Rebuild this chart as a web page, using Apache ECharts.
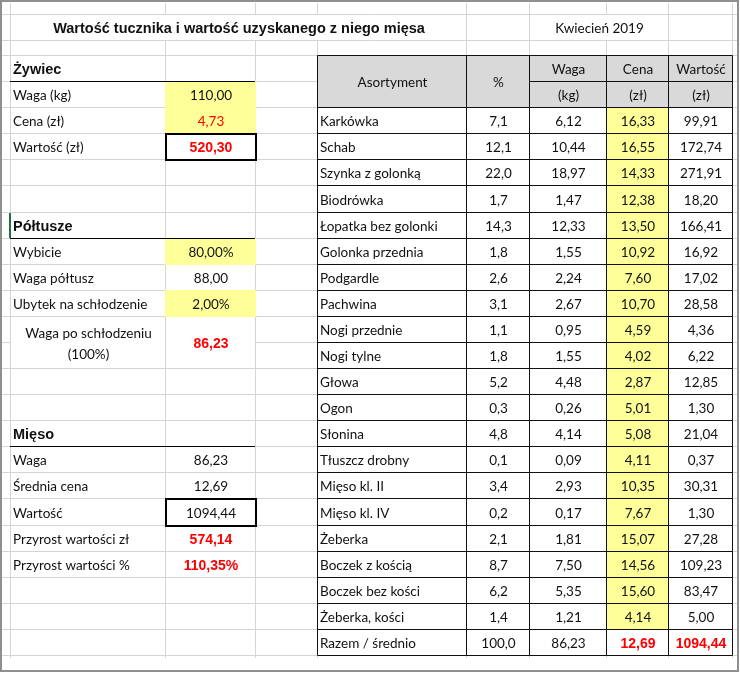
<!DOCTYPE html>
<html>
<head>
<meta charset="utf-8">
<script src="https://cdn.jsdelivr.net/npm/echarts@6/dist/echarts.min.js"></script>
<style>
  html, body { margin: 0; padding: 0; background: #fff; }
  #chart { width: 740px; height: 673px; }
</style>
</head>
<body>
<div id="chart"></div>
<script>
// ---- data ----
const items = ['Karkówka', 'Schab', 'Szynka z golonką', 'Biodrówka', 'Łopatka bez golonki',
  'Golonka przednia', 'Podgardle', 'Pachwina', 'Nogi przednie', 'Nogi tylne', 'Głowa', 'Ogon',
  'Słonina', 'Tłuszcz drobny', 'Mięso kl. II', 'Mięso kl. IV', 'Żeberka', 'Boczek z kością',
  'Boczek bez kości', 'Żeberka, kości'];
const shares = [7.1, 12.1, 22.0, 1.7, 14.3, 1.8, 2.6, 3.1, 1.1, 1.8, 5.2, 0.3, 4.8, 0.1, 3.4, 0.2, 2.1, 8.7, 6.2, 1.4];
const weights = [6.12, 10.44, 18.97, 1.47, 12.33, 1.55, 2.24, 2.67, 0.95, 1.55, 4.48, 0.26, 4.14, 0.09, 2.93, 0.17, 1.81, 7.50, 5.35, 1.21];
const prices = [16.33, 16.55, 14.33, 12.38, 13.50, 10.92, 7.60, 10.70, 4.59, 4.02, 2.87, 5.01, 5.08, 4.11, 10.35, 7.67, 15.07, 14.56, 15.60, 4.14];
const values = [99.91, 172.74, 271.91, 18.20, 166.41, 16.92, 17.02, 28.58, 4.36, 6.22, 12.85, 1.30, 21.04, 0.37, 30.31, 1.30, 27.28, 109.23, 83.47, 5.00];
const totalLabel = 'Razem / średnio';
const totals = [100.0, 86.23, 12.69, 1094.44];

const headers = ['Asortyment', '%', 'Waga', 'Cena', 'Wartość'];
const units = ['(kg)', '(zł)', '(zł)'];

const sections = ['Żywiec', 'Półtusze', 'Mięso'];
const liveLabels = ['Waga (kg)', 'Cena (zł)', 'Wartość (zł)'];
const liveValues = [110.00, 4.73, 520.30];
const halfLabels = ['Wybicie', 'Waga półtusz', 'Ubytek na schłodzenie', 'Waga po schłodzeniu\n(100%)'];
const halfValues = [80.00, 88.00, 2.00, 86.23];
const meatLabels = ['Waga', 'Średnia cena', 'Wartość', 'Przyrost wartości zł', 'Przyrost wartości %'];
const meatValues = [86.23, 12.69, 1094.44, 574.14, 110.35];

const titleText = 'Wartość tucznika i wartość uzyskanego z niego mięsa';
const dateText = 'Kwiecień 2019';

// ---- layout ----
const COLS = [10, 165, 255, 317, 466, 529, 606, 668, 732];
const TOP = 55, N_ROWS = 23, ROW_H = 600 / N_ROWS;
const TITLE_Y = [14, 40];
const rowY = r => TOP + r * ROW_H;

const FONT = '"Lato", "Noto Sans", sans-serif';
const ARIAL = '"Liberation Sans", Arial, sans-serif';
const normal = '13.5px ' + FONT;
const boldRed = 'bold 14px ' + ARIAL;
const sectionFont = 'bold 14.5px ' + ARIAL;
const YELLOW = '#ffff99', GRAY = '#d9d9d9', RED = '#ff0000';

const fmt = (v, d) => v.toFixed(d).replace('.', ',');
const pct = v => fmt(v, 2) + '%';

const cells = [];
function cell(c0, c1, r0, r1, opts) {
  cells.push(Object.assign({ x0: COLS[c0], x1: COLS[c1], y0: rowY(r0), y1: rowY(r1) }, opts));
}

// title row
cells.push({ x0: COLS[0], x1: COLS[4], y0: TITLE_Y[0], y1: TITLE_Y[1], text: titleText, font: sectionFont });
cells.push({ x0: COLS[5], x1: COLS[7], y0: TITLE_Y[0], y1: TITLE_Y[1], text: dateText, font: normal });

// left block: Żywiec
cell(0, 2, 0, 1, { text: sections[0], align: 'left', font: sectionFont, under: true });
liveLabels.forEach((l, i) => {
  const r = 1 + i;
  cell(0, 1, r, r + 1, { text: l, align: 'left', font: normal });
  cell(1, 2, r, r + 1, {
    text: fmt(liveValues[i], 2),
    fill: i < 2 ? YELLOW : null,
    box: i === 2,
    color: i > 0 ? RED : null,
    font: i === 2 ? boldRed : normal
  });
});

// Półtusze
cell(0, 2, 6, 7, { text: sections[1], align: 'left', font: sectionFont, under: true, mark: true });
halfLabels.forEach((l, i) => {
  const r = 7 + i;
  const span = i === 3 ? 2 : 1;
  const isPct = i === 0 || i === 2;
  cell(0, 1, r, r + span, { text: l, align: i === 3 ? 'center' : 'left', font: normal });
  cell(1, 2, r, r + span, {
    text: isPct ? pct(halfValues[i]) : fmt(halfValues[i], 2),
    fill: isPct ? YELLOW : null,
    color: i === 3 ? RED : null,
    font: i === 3 ? boldRed : normal
  });
});

// Mięso
cell(0, 2, 14, 15, { text: sections[2], align: 'left', font: sectionFont, under: true });
meatLabels.forEach((l, i) => {
  const r = 15 + i;
  cell(0, 1, r, r + 1, { text: l, align: 'left', font: normal });
  cell(1, 2, r, r + 1, {
    text: i === 4 ? pct(meatValues[i]) : fmt(meatValues[i], 2),
    box: i === 2,
    color: i >= 3 ? RED : null,
    font: i >= 3 ? boldRed : normal
  });
});

// right table: header
cell(3, 4, 0, 2, { text: headers[0], fill: GRAY, border: true, font: normal });
cell(4, 5, 0, 2, { text: headers[1], fill: GRAY, border: true, font: normal });
for (let k = 0; k < 3; k++) {
  cell(5 + k, 6 + k, 0, 1, { text: headers[2 + k], fill: GRAY, border: true, font: normal });
  cell(5 + k, 6 + k, 1, 2, { text: units[k], fill: GRAY, border: true, font: normal });
}
// right table: body
items.forEach((name, i) => {
  const r = 2 + i;
  cell(3, 4, r, r + 1, { text: name, align: 'left', border: true, font: normal });
  cell(4, 5, r, r + 1, { text: fmt(shares[i], 1), border: true, font: normal });
  cell(5, 6, r, r + 1, { text: fmt(weights[i], 2), border: true, font: normal });
  cell(6, 7, r, r + 1, { text: fmt(prices[i], 2), fill: YELLOW, border: true, font: normal });
  cell(7, 8, r, r + 1, { text: fmt(values[i], 2), border: true, font: normal });
});
cell(3, 4, 22, 23, { text: totalLabel, align: 'left', border: true, font: normal });
cell(4, 5, 22, 23, { text: fmt(totals[0], 1), border: true, font: normal });
cell(5, 6, 22, 23, { text: fmt(totals[1], 2), border: true, font: normal });
cell(6, 7, 22, 23, { text: fmt(totals[2], 2), border: true, color: RED, font: boldRed });
cell(7, 8, 22, 23, { text: fmt(totals[3], 2), border: true, color: RED, font: boldRed });

// sheet gridlines
const grid = [];
COLS.forEach((x, k) => {
  grid.push([x, 3, x, TITLE_Y[0]]);
  grid.push([x, TITLE_Y[1], x, rowY(N_ROWS) + 3]);
  if (k === 0 || k >= 4 && k !== 6) grid.push([x, TITLE_Y[0], x, TITLE_Y[1]]);
});
[TITLE_Y[0], TITLE_Y[1]].forEach(y => grid.push([2, y, 737, y]));
for (let r = 0; r <= N_ROWS; r++) {
  if (r === 11) {
    grid.push([2, rowY(r), COLS[0], rowY(r)]);
    grid.push([COLS[2], rowY(r), 737, rowY(r)]);
  } else {
    grid.push([2, rowY(r), 737, rowY(r)]);
  }
}

function renderGrid(params, api) {
  const a = api.coord([api.value(0), api.value(1)]);
  const b = api.coord([api.value(2), api.value(3)]);
  const vert = Math.abs(a[0] - b[0]) < 0.5;
  const x1 = vert ? Math.round(a[0]) + 0.5 : a[0];
  const x2 = vert ? Math.round(b[0]) + 0.5 : b[0];
  const y1 = vert ? a[1] : Math.round(a[1]) + 0.5;
  const y2 = vert ? b[1] : Math.round(b[1]) + 0.5;
  return { type: 'line', shape: { x1, y1, x2, y2 }, style: { stroke: '#d4d4d4', lineWidth: 1 } };
}

function renderCell(params, api) {
  const c = cells[params.dataIndex];
  const a = api.coord([api.value(0), api.value(1)]);
  const b = api.coord([api.value(2), api.value(3)]);
  const x0 = Math.round(a[0]), y0 = Math.round(a[1]);
  const x1 = Math.round(b[0]), y1 = Math.round(b[1]);
  const ch = [];
  if (c.fill) {
    ch.push({ type: 'rect', z2: 1, shape: { x: x0, y: y0, width: x1 - x0 + 1, height: y1 - y0 + 1 }, style: { fill: c.fill } });
  }
  if (c.border) {
    ch.push({ type: 'rect', z2: 5, shape: { x: x0 + 0.5, y: y0 + 0.5, width: x1 - x0, height: y1 - y0 },
      style: { fill: null, stroke: '#111', lineWidth: 1 } });
  }
  if (c.box) {
    ch.push({ type: 'rect', z2: 5, shape: { x: x0 + 1, y: y0 + 1, width: x1 - x0, height: y1 - y0 },
      style: { fill: null, stroke: '#000', lineWidth: 2 } });
  }
  if (c.under) {
    ch.push({ type: 'line', z2: 5, shape: { x1: x0, y1: y1 + 0.5, x2: x1, y2: y1 + 0.5 },
      style: { stroke: '#000', lineWidth: 1 } });
  }
  if (c.mark) {
    ch.push({ type: 'line', z2: 6, shape: { x1: x0, y1: y0 + 1, x2: x0, y2: y1 },
      style: { stroke: '#217346', lineWidth: 2 } });
  }
  if (c.text) {
    const align = c.align || 'center';
    const tx = align === 'left' ? x0 + 3 : (x0 + x1) / 2 + 1;
    ch.push({ type: 'text', z2: 10, style: {
      text: c.text, x: tx, y: (y0 + y1) / 2 + 2, align, verticalAlign: 'middle',
      fill: c.color || '#111', font: c.font, lineHeight: 21
    } });
  }
  return { type: 'group', children: ch };
}

const chart = echarts.init(document.getElementById('chart'));
chart.setOption({
  animation: false,
  backgroundColor: '#fff',
  grid: { left: 0, right: 0, top: 0, bottom: 0 },
  xAxis: { type: 'value', min: 0, max: 740, show: false },
  yAxis: { type: 'value', min: 0, max: 673, inverse: true, show: false },
  graphic: [{
    type: 'rect', z: 100, shape: { x: 1, y: 1, width: 737, height: 670 },
    style: { fill: null, stroke: '#8f8f8f', lineWidth: 2 }, silent: true
  }],
  series: [
    {
      type: 'custom', silent: true, z: 1,
      renderItem: renderGrid,
      encode: { x: [0, 2], y: [1, 3] },
      data: grid
    },
    {
      type: 'custom', silent: true, z: 2,
      renderItem: renderCell,
      encode: { x: [0, 2], y: [1, 3] },
      data: cells.map(c => [c.x0, c.y0, c.x1, c.y1])
    }
  ]
});
</script>
</body>
</html>
